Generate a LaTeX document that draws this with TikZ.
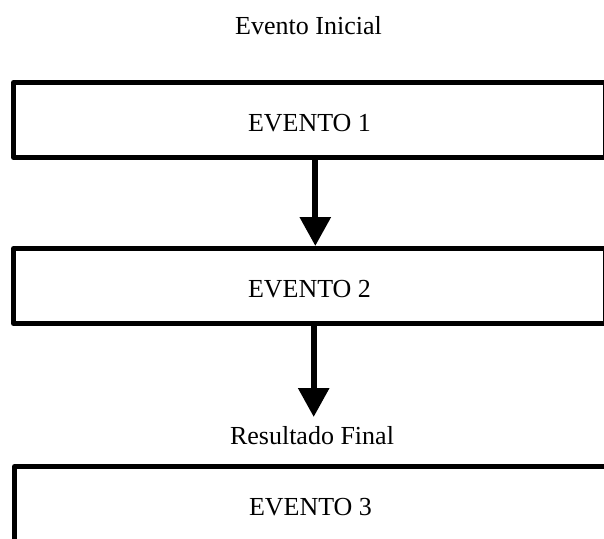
\documentclass[tikz,border=0pt]{standalone}
\usepackage{fontspec}
\setmainfont{Liberation Serif}
\usetikzlibrary{arrows.meta}
\tikzset{
  eventbox/.style={draw=black, line width=5pt, line join=round, fill=white,
    rectangle, inner sep=0pt, minimum width=592pt, minimum height=75pt,
    text height=22pt, text depth=0pt, font=\fontsize{26}{31}\selectfont},
  caption/.style={inner sep=0pt, font=\fontsize{26}{31}\selectfont},
  flow/.style={line width=6pt, -{Triangle[width=30pt,length=29pt]}}
}
\begin{document}
\begin{tikzpicture}[x=1pt, y=-1pt]
  \useasboundingbox (0,0) rectangle (604,538);
  \clip (0,0) rectangle (604,538);
  \fill[white] (0,0) rectangle (604,538);

  % captions
  \node[caption] (start) at (308.5,26) {Evento Inicial};
  \node[caption] (result) at (312,436) {Resultado Final};

  % event boxes (right and lower sides run past the page edge)
  \node[eventbox] (ev1) at (309.5,120) {EVENTO 1};
  \node[eventbox] (ev2) at (309.5,286) {EVENTO 2};
  \node[eventbox] (ev3) at (310.5,504) {EVENTO 3};

  % connectors
  \coordinate (tip2) at (313.7,417);
  \draw[flow] ([xshift=5.8pt]ev1.south) -- ([xshift=5.8pt]ev2.north);
  \draw[flow] ([xshift=4.2pt]ev2.south) -- (tip2);
\end{tikzpicture}
\end{document}
